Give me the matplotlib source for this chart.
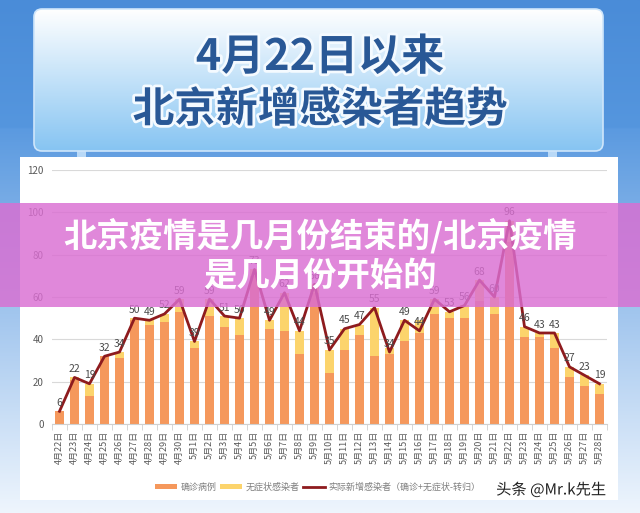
import numpy as np
import matplotlib
matplotlib.use("Agg")
import matplotlib.pyplot as plt
import matplotlib.patheffects as pe
from matplotlib.patches import FancyBboxPatch, Rectangle
from matplotlib.colors import to_rgb

plt.rcParams['font.family'] = ['Noto Sans CJK SC', 'DejaVu Sans']

# Data
dates = ['4月22日', '4月23日', '4月24日', '4月25日', '4月26日', '4月27日', '4月28日',
         '4月29日', '4月30日'] + ['5月%d日' % d for d in range(1, 29)]
confirmed = [6, 21, 13, 32, 31, 49, 47, 48, 53,
             36, 51, 46, 42, 70, 45, 44, 33, 62, 24, 35, 42, 32, 33, 39, 43, 52, 50,
             50, 58, 52, 86, 41, 41, 36, 22, 18, 14]
asymptomatic = [0, 1, 6, 0, 3, 1, 2, 4, 6,
                3, 8, 5, 8, 3, 4, 18, 11, 4, 11, 10, 5, 23, 3, 10, 6, 7, 3,
                6, 10, 8, 10, 5, 2, 7, 5, 5, 5]
actual_new = [6, 22, 19, 32, 34, 50, 49, 52, 59,
              39, 59, 51, 50, 73, 49, 62, 44, 66, 35, 45, 47, 55, 34, 49, 44, 59, 53,
              56, 68, 60, 96, 46, 43, 43, 27, 23, 19]
yticks = [0, 20, 40, 60, 80, 100, 120]

W, H = 640, 513
fig = plt.figure(figsize=(6.4, 5.13), dpi=100)

# background layer in pixel coordinates
bg = fig.add_axes([0, 0, 1, 1], zorder=0)
bg.set_xlim(0, W)
bg.set_ylim(H, 0)
bg.axis('off')

def vgrad(c_top, c_bot, n=256):
    a, b = np.array(to_rgb(c_top)), np.array(to_rgb(c_bot))
    t = np.linspace(0, 1, n)[:, None]
    return (a * (1 - t) + b * t)[:, None, :]

# page gradient: strong blue at top, pale blue at the bottom
top_part = vgrad('#4a8cd8', '#5596de', 64)
low_part = vgrad('#5b9ae0', '#eef5fd', 192)
bg.imshow(np.vstack([top_part, low_part]), extent=(0, W, H, 0), aspect='auto', zorder=0)

# title board
board = FancyBboxPatch((34, 9), 569, 142, boxstyle='round,pad=0,rounding_size=8',
                       facecolor='none', edgecolor='#cfe6fb', linewidth=1.2, zorder=3)
bg.add_patch(board)
img = bg.imshow(vgrad('#ffffff', '#86c4f2'), extent=(34, 603, 151, 9), aspect='auto', zorder=2)
img.set_clip_path(board)
for px in (77, 548):
    bg.add_patch(Rectangle((px, 151), 9, 8, facecolor='#b9d9f7', edgecolor='none', zorder=2))

# white chart panel
bg.add_patch(Rectangle((20, 157), 598, 343, facecolor='white', edgecolor='none', zorder=2))

title_fx = [pe.withStroke(linewidth=4, foreground='#f4faff')]
bg.text(320, 57, '4月22日以来', ha='center', va='center', fontsize=31, fontweight='bold',
        color='#295896', path_effects=title_fx, zorder=4)
bg.text(320, 110, '北京新增感染者趋势', ha='center', va='center', fontsize=30, fontweight='bold',
        color='#295896', path_effects=title_fx, zorder=4)

# chart
ax = fig.add_axes([52 / W, 1 - 424 / H, 555 / W, 254 / H], zorder=2)
ax.patch.set_alpha(0)
x = np.arange(len(dates))
ax.bar(x, confirmed, width=0.6, color='#f5985c', zorder=2, label='确诊病例')
ax.bar(x, asymptomatic, width=0.6, bottom=confirmed, color='#fcd46c', zorder=2,
       label='无症状感染者')
ax.plot(x, actual_new, color='#8e1b1e', linewidth=2.0, zorder=3,
        label='实际新增感染者（确诊+无症状-转归）')
for xi, v in zip(x, actual_new):
    ax.annotate(str(v), (xi, v), xytext=(0, 2.5), textcoords='offset points',
                ha='center', va='bottom', fontsize=7.5, color='#4a4a4a', zorder=4)

ax.set_xlim(-0.5, len(dates) - 0.5)
ax.set_ylim(0, 120)
ax.set_yticks(yticks)
ax.yaxis.grid(True, color='#d9d9d9', linewidth=0.8, zorder=0)
ax.set_axisbelow(True)
for s in ('top', 'right', 'left'):
    ax.spines[s].set_visible(False)
ax.spines['bottom'].set_color('#d0d0d0')
ax.tick_params(axis='y', length=0, labelsize=7, labelcolor='#595959', pad=6)
ax.set_xticks(x)
ax.set_xticklabels(dates, rotation=90, fontsize=6.5, color='#595959')
ax.tick_params(axis='x', which='major', length=0, pad=5)
ax.set_xticks(np.arange(-0.5, len(dates), 1), minor=True)
ax.tick_params(axis='x', which='minor', length=4, color='#d0d0d0')

handles, labels = ax.get_legend_handles_labels()
order = [1, 2, 0]
leg = fig.legend([handles[i] for i in order], [labels[i] for i in order], loc='center',
                 bbox_to_anchor=(318 / W, 1 - 487 / H), ncol=3, frameon=False,
                 fontsize=6.5, handlelength=2.4, handleheight=0.6, columnspacing=0.4,
                 handletextpad=0.4)
for t in leg.get_texts():
    t.set_color('#7f7f7f')

# overlay: pink banner and watermark
ov = fig.add_axes([0, 0, 1, 1], zorder=10)
ov.set_xlim(0, W)
ov.set_ylim(H, 0)
ov.axis('off')
ov.patch.set_alpha(0)
ov.add_patch(Rectangle((0, 203), W, 104, facecolor='#da6ed2', alpha=0.82, edgecolor='none'))
ov.text(320, 236, '北京疫情是几月份结束的/北京疫情', ha='center', va='center', fontsize=24,
        fontweight='bold', color='white')
ov.text(320, 276, '是几月份开始的', ha='center', va='center', fontsize=24,
        fontweight='bold', color='white')
ov.text(551, 490, '头条 @Mr.k先生', ha='center', va='center', fontsize=11, color='#222222',
        path_effects=[pe.withStroke(linewidth=2, foreground='white')])

fig.savefig('out.png', dpi=100)
